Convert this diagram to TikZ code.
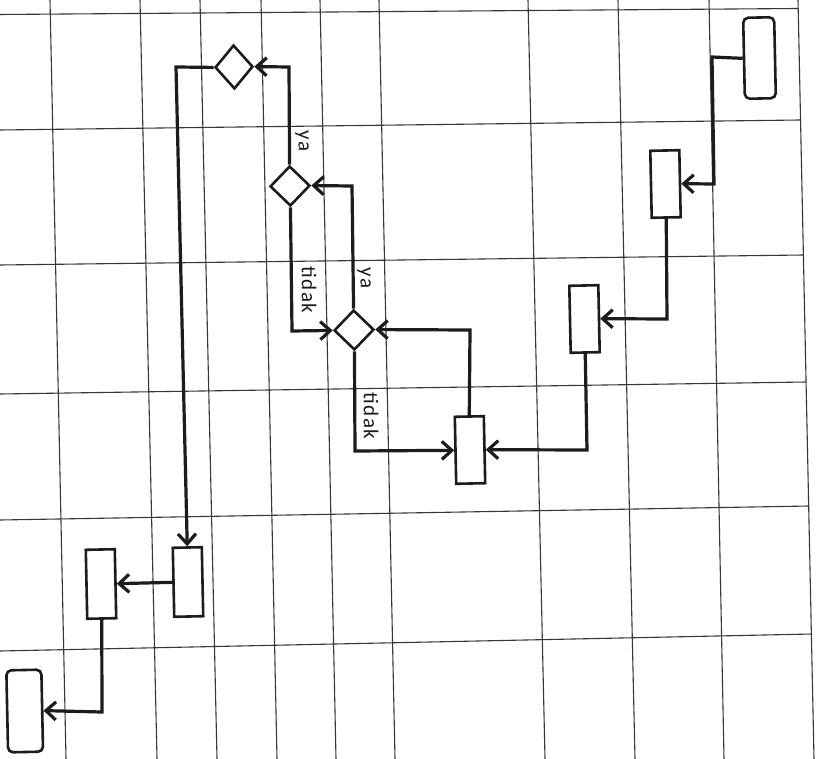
\documentclass[tikz,border=0pt]{standalone}
\usepackage{fontspec}
\setmainfont{Carlito}
\newfontfamily\lblfont[LetterSpace=6]{Carlito}
\usetikzlibrary{shapes.geometric,arrows.meta}
\definecolor{ink}{RGB}{28,28,28}
\definecolor{gridc}{RGB}{55,55,55}
\tikzset{
  gridline/.style={draw=gridc,line width=1.1pt},
  procbox/.style={draw=ink,fill=white,line width=2.6pt,minimum width=29pt,minimum height=67pt,inner sep=0pt,rotate=1.2},
  termbox/.style={draw=ink,fill=white,line width=2.6pt,rounded corners=5pt,minimum width=31pt,minimum height=81pt,inner sep=0pt,rotate=1.2},
  decbox/.style={diamond,draw=ink,fill=white,line width=2.6pt,minimum width=40pt,minimum height=40pt,inner sep=0pt,rotate=1.2},
  conn/.style={draw=ink,line width=3.2pt,line join=miter},
  arr/.style={conn,-{Straight Barb[length=10pt,width=18pt]}},
  lbl/.style={font=\lblfont\fontsize{21}{24}\selectfont,text=ink,rotate=-90,inner sep=0pt}
}
\begin{document}
\begin{tikzpicture}[x=1pt,y=-1pt]
\useasboundingbox (0,0) rectangle (826,759);
\fill[white] (0,0) rectangle (826,759);
% grid: vertical lines
\foreach \a/\b in {50/66,140/157,200/217,261/277,320/336,379/395,528/545,618/635,709/724,798/814}
  \draw[gridline] (\a,0) -- (\b,759);
% grid: horizontal lines
\foreach \a/\b/\c in {14.5/8.5/798,130/120/800,265/255/803,394/382/806,520/506/809,651/634/812}
  \draw[gridline] (0,\a) -- (\c,\b);
% nodes
\node[termbox,minimum width=31pt] (start) at (759.5,58) {};
\node[procbox] (p1) at (665.5,184) {};
\node[procbox] (p2) at (584.5,319) {};
\node[procbox] (p3) at (470,450) {};
\node[decbox] (d2) at (354,330) {};
\node[decbox] (d1) at (290,186) {};
\node[decbox,minimum width=38pt,minimum height=44pt] (d0) at (234,67) {};
\node[procbox,minimum height=69pt] (p4) at (188,582) {};
\node[procbox,minimum height=69pt] (p5) at (101,584) {};
\node[termbox,minimum width=35pt,minimum height=82pt] (end) at (24.7,711) {};
% bend points
\coordinate (b0) at (712,57);
\coordinate (b1) at (714,184);
\coordinate (b2) at (667,319);
\coordinate (b3) at (587,450);
\coordinate (b4) at (470,330);
\coordinate (b5) at (352,186);
\coordinate (b6) at (289,67);
\coordinate (b7) at (292,331);
\coordinate (b8) at (355,451);
\coordinate (b9) at (176,67);
\coordinate (b10) at (102,712);
% connectors
\draw[arr] (start.west) -- (b0) -- (b1) -- (p1.east);
\draw[arr] (p1.south) -- (b2) -- (p2.east);
\draw[arr] (p2.south) -- (b3) -- (p3.east);
\draw[arr] (p3.north) -- (b4) -- (d2.east);
\draw[arr] (d2.north) -- (b5) -- (d1.east);
\draw[arr] (d1.north) -- (b6) -- (d0.east);
\draw[arr] (d1.south) -- (b7) -- (d2.west);
\draw[arr] (d2.south) -- (b8) -- (p3.west);
\draw[arr] (d0.west) -- (b9) -- (p4.north);
\draw[arr] (p4.west) -- (p5.east);
\draw[arr] (p5.south) -- (b10) -- (end.east);
% labels
\node[lbl] (l1) at (302,141) {ya};
\node[lbl] (l2) at (364,278) {ya};
\node[lbl] (l3) at (309,290) {tidak};
\node[lbl] (l4) at (371,416) {tidak};
\end{tikzpicture}
\end{document}
